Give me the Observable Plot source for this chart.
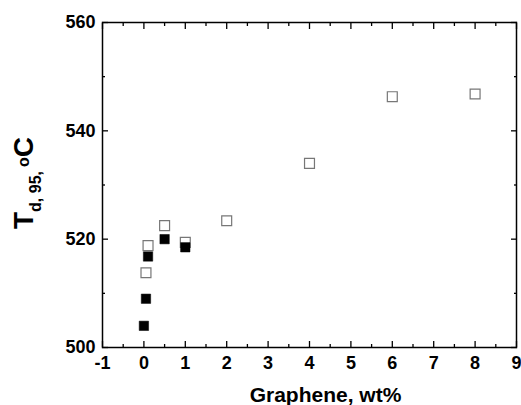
<!DOCTYPE html>
<html><head><meta charset="utf-8">
<script src="https://cdn.jsdelivr.net/npm/d3@7"></script>
<script src="https://cdn.jsdelivr.net/npm/@observablehq/plot@0.6"></script>
<style>body{margin:0;background:#fff}</style>
</head><body><div id="chart"></div>
<script>
// Data
const filledX = [0, 0.05, 0.1, 0.5, 1];
const filledY = [504, 509, 516.8, 520, 518.5];
const openX = [0.05, 0.1, 0.5, 1, 2, 4, 6, 8];
const openY = [513.8, 518.8, 522.5, 519.4, 523.4, 534, 546.3, 546.8];
const xMajor = [-1, 0, 1, 2, 3, 4, 5, 6, 7, 8, 9];
const xMinor = [-0.5, 0.5, 1.5, 2.5, 3.5, 4.5, 5.5, 6.5, 7.5, 8.5];
const yMajor = [500, 520, 540, 560];
const yMinor = [510, 530, 550];
const xLabel = "Graphene, wt%";

const filled = filledX.map((x, i) => ({x, y: filledY[i]}));
const open = openX.map((x, i) => ({x, y: openY[i]}));

const font = "'Liberation Sans', Arial, sans-serif";
const tickFont = {fontSize: 18, fontWeight: "bold", fill: "black"};

const plot = Plot.plot({
  width: 521,
  height: 405,
  marginLeft: 102,
  marginRight: 5,
  marginTop: 22,
  marginBottom: 58,
  style: {fontFamily: font, background: "white", color: "black"},
  x: {domain: [-1, 9]},
  y: {domain: [500, 560]},
  marks: [
    // inward major/minor ticks
    Plot.axisX(xMajor, {anchor: "bottom", tickSize: 6, dy: -6, fill: "none", label: null, strokeWidth: 1.3}),
    Plot.axisX(xMinor, {anchor: "bottom", tickSize: 3, dy: -3, fill: "none", label: null, strokeWidth: 1.3}),
    Plot.axisX(xMajor, {anchor: "top", tickSize: 6, dy: 6, fill: "none", label: null, strokeWidth: 1.3}),
    Plot.axisX(xMinor, {anchor: "top", tickSize: 3, dy: 3, fill: "none", label: null, strokeWidth: 1.3}),
    Plot.axisY(yMajor, {anchor: "left", tickSize: 6, dx: 6, fill: "none", label: null, strokeWidth: 1.3}),
    Plot.axisY(yMinor, {anchor: "left", tickSize: 3, dx: 3, fill: "none", label: null, strokeWidth: 1.3}),
    Plot.axisY(yMajor, {anchor: "right", tickSize: 6, dx: -6, fill: "none", label: null, strokeWidth: 1.3}),
    Plot.axisY(yMinor, {anchor: "right", tickSize: 3, dx: -3, fill: "none", label: null, strokeWidth: 1.3}),
    // tick labels
    Plot.axisX(xMajor, {anchor: "bottom", tickSize: 0, tickPadding: 9, label: null, tickFormat: d => String(d), ...tickFont}),
    Plot.axisY(yMajor, {anchor: "left", tickSize: 0, tickPadding: 7, label: null, tickFormat: d => String(d), ...tickFont}),
    Plot.frame({stroke: "black", strokeWidth: 1.5}),
    Plot.dot(open, {x: "x", y: "y", symbol: "square", r: 5.6, fill: "white", stroke: "#777", strokeWidth: 1.2}),
    Plot.dot(filled, {x: "x", y: "y", symbol: "square", r: 5.3, fill: "black", stroke: "black", strokeWidth: 0.5}),
    Plot.text([xLabel], {frameAnchor: "bottom", lineAnchor: "bottom", dx: 16, dy: 54, text: d => d, fontSize: 21, fontWeight: "bold", fill: "black"})
  ]
});

// Y-axis label with subscript and superscript
const svg = d3.select(plot);
const t = svg.append("text")
  .attr("transform", "translate(33,183) rotate(-90)")
  .attr("text-anchor", "middle")
  .attr("font-family", font)
  .attr("font-weight", "bold")
  .attr("fill", "black")
  .attr("font-size", 28);
t.append("tspan").text("T");
t.append("tspan").attr("font-size", 16).attr("dy", 8).text("d, 95,");
t.append("tspan").attr("font-size", 16).attr("dy", -12).attr("dx", 4).text("o");
t.append("tspan").attr("dy", 4).text("C");

document.getElementById("chart").appendChild(plot);
</script>
</body></html>
